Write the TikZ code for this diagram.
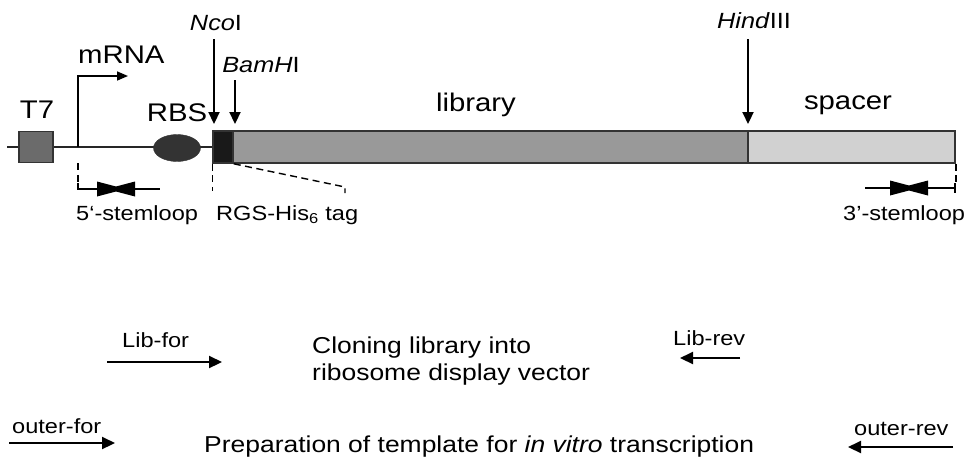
\documentclass[tikz,border=0pt]{standalone}
\usepackage{fontspec}
\setmainfont{Liberation Sans}[FakeStretch=1.15]
\usetikzlibrary{arrows.meta,shapes.geometric}
\tikzset{
  big/.style={font=\fontsize{25.5}{30}\selectfont,inner sep=0pt},
  enz/.style={font=\fontsize{22}{26}\selectfont,inner sep=0pt},
  sml/.style={font=\fontsize{20.5}{24}\selectfont,inner sep=0pt},
  txt/.style={font=\fontsize{23}{27}\selectfont,inner sep=0pt},
  cut/.style={line width=2.2pt,-{Triangle[length=12pt,width=11pt]}},
  primer/.style={line width=2.2pt,-{Triangle[length=13pt,width=12pt]}},
  dsh/.style={line width=1.4pt,dash pattern=on 7pt off 4.5pt},
  part/.style={draw=black!80,line width=1.6pt,minimum height=32pt,inner sep=0pt},
}

\begin{document}
\begin{tikzpicture}[x=1pt,y=-1pt]
  \useasboundingbox (0,0) rectangle (971,456);
  % construct
  \coordinate (bb) at (7,147);
  \node[part,fill=black!90,minimum width=20pt] (tag) at (223,147) {};
  \draw[line width=1.6pt,black!85] (bb) -- (tag.west);
  \node[part,fill=black!40,minimum width=515pt] (lib) at (490.5,147) {};
  \node[part,fill=black!18,minimum width=207pt] (spc) at (851.5,147) {};
  \node[part,fill=black!58,minimum width=34pt,minimum height=31pt] (t7) at (36,147) {};
  \node[ellipse,draw=black!80,fill=black!80,minimum width=47pt,minimum height=27pt,inner sep=0pt] (rbs) at (177,148) {};
  \node[big,anchor=base] (t7lbl) at (37,118) {T7};
  \node[big,anchor=base] (rbslbl) at (177,121) {RBS};
  \node[big,anchor=base west] (mrna) at (78,63) {mRNA};
  \node[big,anchor=base] (liblbl) at (476,111) {library};
  \node[big,anchor=base] (spclbl) at (848,109) {spacer};
  % transcription start
  \coordinate (tss) at (78,147);
  \coordinate (tsstip) at (128,76);
  \draw[line width=1.6pt,-{Triangle[length=11pt,width=9pt]}] (tss) |- (tsstip);
  % restriction sites
  \node[enz,anchor=base] (nco) at (216,30) {\textit{Nco}I};
  \node[enz,anchor=base] (bam) at (261,72) {\textit{BamH}I};
  \node[enz,anchor=base west] (hind) at (717,28) {\textit{Hind}III};
  \coordinate (ncotip) at (214,124);
  \coordinate (bamtip) at (235,124);
  \coordinate (hindtip) at (748,124);
  \draw[cut] ([yshift=-9pt]nco.south -| ncotip) -- (ncotip);
  \draw[cut] ([yshift=-8pt]bam.south -| bamtip) -- (bamtip);
  \draw[cut] ([yshift=-11pt]hind.south -| hindtip) -- (hindtip);
  % 5' stemloop
  \coordinate (sl5) at (160,189);
  \draw[dsh] (tss |- t7.south) -- ++(0,20);
  \draw[line width=1.6pt] (78,183) |- (sl5);
  \fill[shift={(116,189)}] (-19,-7.5) -- (0,-2.5) -- (19,-7.5) -- (19,7.5) -- (0,2.5) -- (-19,7.5) -- cycle;
  \node[sml,anchor=base west] (sl5lbl) at (76,220) {5‘-stemloop};
  % tag
  \coordinate (tagend) at (345,187);
  \draw[dsh] (tag.south west) -- ++(0,27);
  \draw[dsh] (tag.south east) -- (tagend) -- ++(0,6);
  \node[sml,anchor=base west] (taglbl) at (216,220) {RGS-His\textsubscript{6} tag};
  % 3' stemloop
  \coordinate (sl3) at (865,188);
  \draw[dsh] (spc.south east) -- ++(0,18);
  \draw[line width=1.6pt] (sl3) -- (955,188) ++(0,-5) -- ++(0,10);
  \fill[shift={(909,188)}] (-19,-7.5) -- (0,-2.5) -- (19,-7.5) -- (19,7.5) -- (0,2.5) -- (-19,7.5) -- cycle;
  \node[sml,anchor=base west] (sl3lbl) at (843,220) {3’-stemloop};
  % primers
  \node[sml,anchor=base west] (libf) at (122,347) {Lib-for};
  \node[sml,anchor=base west] (libr) at (673,345) {Lib-rev};
  \node[sml,anchor=base west] (outf) at (12,433) {outer-for};
  \node[sml,anchor=base west] (outr) at (854,435) {outer-rev};
  \coordinate (libf0) at (107,362); \coordinate (libf1) at (222,362);
  \coordinate (libr0) at (740,358); \coordinate (libr1) at (680,358);
  \coordinate (outf0) at (9,443);   \coordinate (outf1) at (115,443);
  \coordinate (outr0) at (953,447); \coordinate (outr1) at (848,447);
  \draw[primer] (libf0) -- (libf1);
  \draw[primer] (libr0) -- (libr1);
  \draw[primer] (outf0) -- (outf1);
  \draw[primer] (outr0) -- (outr1);
  \node[txt,anchor=base west] (clone1) at (312,353) {Cloning library into};
  \node[txt,anchor=base west] (clone2) at (312,380) {ribosome display vector};
  \node[txt,anchor=base west] (prep) at (204,452) {Preparation of template for \textit{in vitro} transcription};
\end{tikzpicture}
\end{document}
